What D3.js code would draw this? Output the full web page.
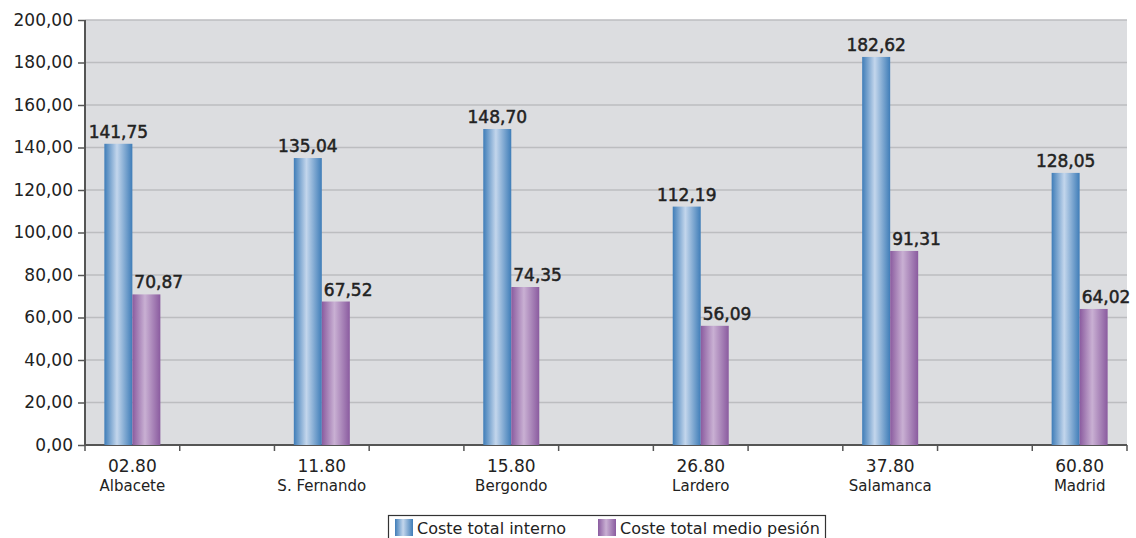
<!DOCTYPE html>
<html>
<head>
<meta charset="utf-8">
<script src="https://cdn.jsdelivr.net/npm/d3@7"></script>
<style>
  body { margin: 0; background: #fff; }
  svg { display: block; font-family: "DejaVu Sans", sans-serif; }
</style>
</head>
<body>
<script>
// data
var codes = ["02.80", "11.80", "15.80", "26.80", "37.80", "60.80"];
var places = ["Albacete", "S. Fernando", "Bergondo", "Lardero", "Salamanca", "Madrid"];
var interno = [141.75, 135.04, 148.70, 112.19, 182.62, 128.05];
var medio = [70.87, 67.52, 74.35, 56.09, 91.31, 64.02];
var seriesNames = ["Coste total interno", "Coste total medio pesión"];
var yTicks = [0, 20, 40, 60, 80, 100, 120, 140, 160, 180, 200];

var W = 1136, H = 538;
var pLeft = 85, pRight = 1127, pTop = 20, pBottom = 445;

var svg = d3.select("body").append("svg")
  .attr("width", W)
  .attr("height", H);

// gradients for the "cylinder" look
var defs = svg.append("defs");
function grad(id, edge, mid) {
  var g = defs.append("linearGradient").attr("id", id)
    .attr("x1", "0%").attr("x2", "100%").attr("y1", "0%").attr("y2", "0%");
  g.append("stop").attr("offset", "0%").attr("stop-color", edge);
  g.append("stop").attr("offset", "45%").attr("stop-color", mid);
  g.append("stop").attr("offset", "100%").attr("stop-color", edge);
}
grad("gBlue", "#3f7db8", "#c3d6ec");
grad("gPurple", "#8a5b9f", "#c9b0d3");

// 11 slots, categories sit in every other one
var slots = d3.range(11);
var x = d3.scaleBand().domain(slots).range([pLeft, pRight]).padding(0);
var y = d3.scaleLinear().domain([0, 200]).range([pBottom, pTop]);

var data = codes.map(function(c, i) {
  return { code: c, place: places[i], slot: i * 2, a: interno[i], b: medio[i] };
});

svg.append("rect")
  .attr("x", pLeft).attr("y", pTop)
  .attr("width", pRight - pLeft).attr("height", pBottom - pTop)
  .attr("fill", "#dcdde0");

// gridlines
svg.selectAll("line.grid")
  .data(yTicks.slice(1))
  .enter().append("line")
  .attr("class", "grid")
  .attr("x1", pLeft).attr("x2", pRight)
  .attr("y1", function(d) { return y(d); })
  .attr("y2", function(d) { return y(d); })
  .attr("stroke", "#bcbdc0")
  .attr("stroke-width", 1.4);

// y axis
var yAxis = svg.append("g")
  .attr("transform", "translate(" + pLeft + ",0)")
  .call(d3.axisLeft(y).tickValues(yTicks).tickSize(7).tickPadding(5)
    .tickFormat(function(d) { return d3.format(".2f")(d).replace(".", ","); }));
yAxis.selectAll("text").attr("font-size", "17px").attr("fill", "#222")
  .attr("font-family", "DejaVu Sans");
yAxis.selectAll("line").attr("stroke", "#555").attr("stroke-width", 1.5);
yAxis.select(".domain").attr("stroke", "#555").attr("stroke-width", 2)
  .attr("d", "M0," + pTop + "V" + pBottom);

// x axis: ticks at slot boundaries
var bounds = slots.map(function(s) { return x(s); }).concat([pRight]);
svg.append("line")
  .attr("x1", pLeft).attr("x2", pRight)
  .attr("y1", pBottom).attr("y2", pBottom)
  .attr("stroke", "#555").attr("stroke-width", 2);
svg.selectAll("line.xt")
  .data(bounds)
  .enter().append("line")
  .attr("class", "xt")
  .attr("x1", function(d) { return d; }).attr("x2", function(d) { return d; })
  .attr("y1", pBottom).attr("y2", pBottom + 6)
  .attr("stroke", "#555").attr("stroke-width", 1.5);

var bw = 28;
var groups = svg.selectAll("g.cat")
  .data(data)
  .enter().append("g")
  .attr("class", "cat")
  .attr("transform", function(d) { return "translate(" + (x(d.slot) + x.bandwidth() / 2) + ",0)"; });

groups.append("rect")
  .attr("x", -bw).attr("width", bw)
  .attr("y", function(d) { return y(d.a); })
  .attr("height", function(d) { return pBottom - y(d.a); })
  .attr("fill", "url(#gBlue)");
groups.append("rect")
  .attr("x", 0).attr("width", bw)
  .attr("y", function(d) { return y(d.b); })
  .attr("height", function(d) { return pBottom - y(d.b); })
  .attr("fill", "url(#gPurple)");

function fmt(v) { return d3.format(".2f")(v).replace(".", ","); }

groups.append("text")
  .attr("x", -bw / 2)
  .attr("y", function(d) { return y(d.a) - 6; })
  .attr("text-anchor", "middle")
  .attr("font-size", "17px")
  .attr("fill", "#222").attr("stroke", "#222").attr("stroke-width", 0.5)
  .text(function(d) { return fmt(d.a); });
// purple labels sit from the bar's left edge
groups.append("text")
  .attr("x", 2)
  .attr("y", function(d) { return y(d.b) - 6; })
  .attr("text-anchor", "start")
  .attr("font-size", "17px")
  .attr("fill", "#222").attr("stroke", "#222").attr("stroke-width", 0.5)
  .text(function(d) { return fmt(d.b); });

groups.append("text")
  .attr("y", 472)
  .attr("text-anchor", "middle")
  .attr("font-size", "17px")
  .attr("fill", "#222")
  .text(function(d) { return d.code; });
groups.append("text")
  .attr("y", 491)
  .attr("text-anchor", "middle")
  .attr("font-size", "15px")
  .attr("fill", "#222")
  .text(function(d) { return d.place; });

// legend
var lg = svg.append("g");
lg.append("rect")
  .attr("x", 388.5).attr("y", 515.5)
  .attr("width", 437).attr("height", 30)
  .attr("fill", "#fff").attr("stroke", "#333").attr("stroke-width", 1.2);
var lx = [395, 598];
var fills = ["url(#gBlue)", "url(#gPurple)"];
seriesNames.forEach(function(n, i) {
  lg.append("rect")
    .attr("x", lx[i]).attr("y", 519)
    .attr("width", 18).attr("height", 17)
    .attr("fill", fills[i]);
  lg.append("text")
    .attr("x", lx[i] + 22).attr("y", 534)
    .attr("font-size", "16px")
    .attr("fill", "#222")
    .text(n);
});
</script>
</body>
</html>
